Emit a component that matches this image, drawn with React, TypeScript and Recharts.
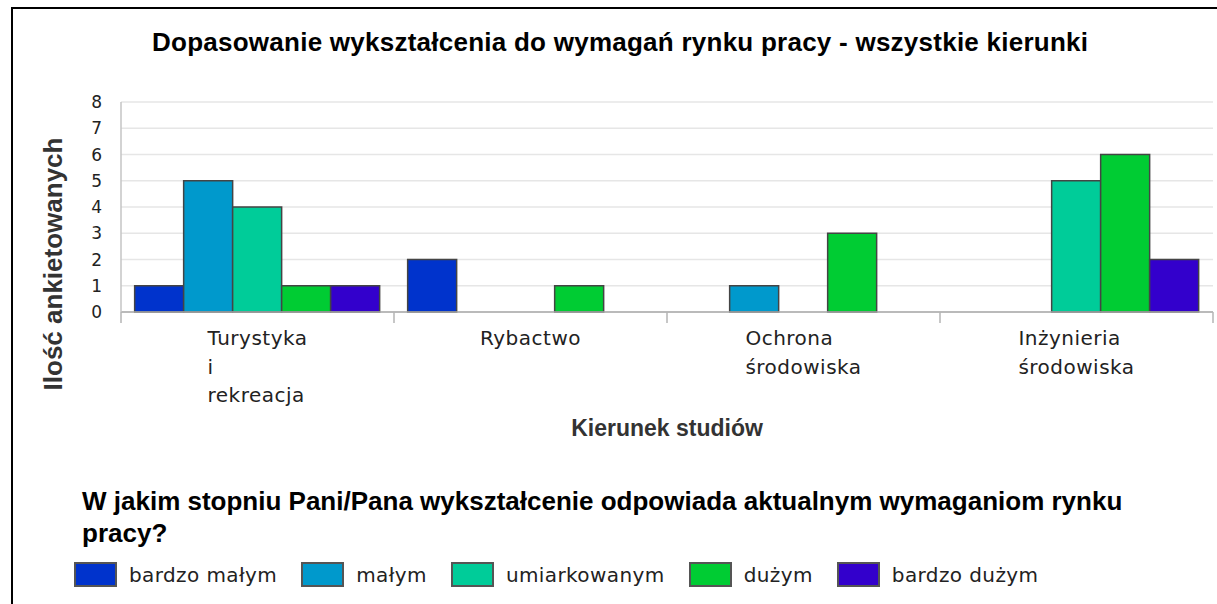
import React from "react";
import { BarChart, Bar, XAxis, YAxis, CartesianGrid, Label } from "recharts";

// categories (kierunek studiów)
const categories = ["Turystyka i rekreacja", "Rybactwo", "Ochrona środowiska", "Inżynieria środowiska"];

// answers to the question, one array per answer level
const seriesNames = ["bardzo małym", "małym", "umiarkowanym", "dużym", "bardzo dużym"];
const seriesColors = ["#0033cc", "#0099cc", "#00cc99", "#00cc33", "#3300cc"];
const bardzoMalym = [1, 2, 0, 0];
const malym = [5, 0, 1, 0];
const umiarkowanym = [4, 0, 0, 5];
const duzym = [1, 1, 3, 6];
const bardzoDuzym = [1, 0, 0, 2];

const yTicks = [0, 1, 2, 3, 4, 5, 6, 7, 8];

const title = "Dopasowanie wykształcenia do wymagań rynku pracy - wszystkie kierunki";
const yTitle = "Ilość ankietowanych";
const xTitle = "Kierunek studiów";
const legendTitle = "W jakim stopniu Pani/Pana wykształcenie odpowiada aktualnym wymaganiom rynku pracy?";

const W = 1217;
const H = 604;
const MARGIN = { top: 102, right: 4, left: 0, bottom: 162 };
const Y_WIDTH = 121;
const PLOT_W = W - MARGIN.left - MARGIN.right - Y_WIDTH;

const TICK_FONT = '20px "DejaVu Sans"';
const TICK_LS = 0.5;

const keys = ["s0", "s1", "s2", "s3", "s4"];
const seriesValues = [bardzoMalym, malym, umiarkowanym, duzym, bardzoDuzym];

const data = categories.map((name, i) => {
  const row: Record<string, string | number> = { name };
  seriesValues.forEach((vals, s) => {
    row[keys[s]] = vals[i];
  });
  return row;
});

let ctx: CanvasRenderingContext2D | null = null;
function measure(s: string) {
  if (!ctx) ctx = document.createElement("canvas").getContext("2d");
  if (!ctx) return s.length * 11;
  ctx.font = TICK_FONT;
  return ctx.measureText(s).width + TICK_LS * s.length;
}

function XTick(props: any) {
  const { x, y, payload, index } = props;
  const lines: string[] = String(payload.value).split(" ");
  const w = Math.max(...lines.map(measure));
  const left = x - w / 2;
  const bw = PLOT_W / categories.length;
  return (
    <g>
      <line x1={x - bw / 2} x2={x - bw / 2} y1={y} y2={y + 11} stroke="#b5b5b5" strokeWidth={1.5} />
      {index === categories.length - 1 && (
        <line x1={x + bw / 2} x2={x + bw / 2} y1={y} y2={y + 11} stroke="#b5b5b5" strokeWidth={1.5} />
      )}
      <text
        x={left}
        y={y + 33}
        fill="#222"
        style={{ font: TICK_FONT, letterSpacing: TICK_LS }}
      >
        {lines.map((l, i) => (
          <tspan key={i} x={left} dy={i === 0 ? 0 : 28.5}>
            {l}
          </tspan>
        ))}
      </text>
    </g>
  );
}

function YTitle(props: any) {
  const vb = props.viewBox;
  const cx = vb.x + 62;
  const cy = vb.y + vb.height / 2 + 57;
  return (
    <text
      x={cx}
      y={cy}
      transform={`rotate(-90 ${cx} ${cy})`}
      textAnchor="middle"
      fill="#333"
      style={{ font: 'bold 26px "Liberation Sans"' }}
    >
      {yTitle}
    </text>
  );
}

function XTitle(props: any) {
  const vb = props.viewBox;
  return (
    <text
      x={vb.x + vb.width / 2}
      y={vb.y + 124}
      textAnchor="middle"
      fill="#333"
      style={{ font: 'bold 23px "Liberation Sans"' }}
    >
      {xTitle}
    </text>
  );
}

export default function App() {
  return (
    <div style={{ position: "absolute", left: 0, top: 0, width: W, height: H, background: "#fff" }}>
      <div
        style={{
          position: "absolute",
          left: 11,
          top: 7,
          width: W - 11,
          height: H - 7,
          borderTop: "2px solid #000",
          borderLeft: "2px solid #000",
          boxSizing: "border-box",
        }}
      />
      <div
        style={{
          position: "absolute",
          left: 152,
          top: 27,
          font: 'bold 26px "Liberation Sans"',
          lineHeight: "30px",
          letterSpacing: 0.25,
          whiteSpace: "nowrap",
          color: "#000",
        }}
      >
        {title}
      </div>
      <BarChart width={W} height={H} data={data} margin={MARGIN} barCategoryGap="5%" barGap={0}>
        <CartesianGrid vertical={false} stroke="#e6e6e6" strokeWidth={1.5} />
        <XAxis
          dataKey="name"
          height={130}
          tickLine={false}
          tickSize={0}
          tickMargin={0}
          axisLine={{ stroke: "#aaa", strokeWidth: 1.5 }}
          tick={<XTick />}
          interval={0}
        >
          <Label content={<XTitle />} />
        </XAxis>
        <XAxis
          xAxisId="top"
          dataKey="name"
          orientation="top"
          height={0}
          tick={false}
          tickLine={false}
          axisLine={{ stroke: "#ccc", strokeWidth: 1.5 }}
        />
        <YAxis
          domain={[0, 8]}
          ticks={yTicks}
          width={Y_WIDTH}
          tickLine={false}
          tickMargin={13}
          axisLine={{ stroke: "#c4c4c4", strokeWidth: 1.5 }}
          tick={{ fill: "#222", fontSize: 17, fontFamily: "DejaVu Sans" }}
          interval={0}
        >
          <Label content={<YTitle />} />
        </YAxis>
        <YAxis
          yAxisId="right"
          orientation="right"
          domain={[0, 8]}
          width={0}
          tick={false}
          tickLine={false}
          axisLine={{ stroke: "#ccc", strokeWidth: 1.5 }}
        />
        {keys.map((k, i) => (
          <Bar
            key={k}
            dataKey={k}
            name={seriesNames[i]}
            fill={seriesColors[i]}
            stroke="#444"
            strokeWidth={1.5}
            isAnimationActive={false}
          />
        ))}
      </BarChart>
      <div
        style={{
          position: "absolute",
          left: 82,
          top: 485,
          width: 1100,
          font: 'bold 26px "Liberation Sans"',
          lineHeight: "32px",
          color: "#000",
        }}
      >
        {legendTitle}
      </div>
      <div
        style={{
          position: "absolute",
          left: 74,
          top: 562,
          height: 25,
          display: "flex",
          alignItems: "center",
        }}
      >
        {seriesNames.map((n, i) => (
          <React.Fragment key={n}>
            <div
              style={{
                width: 43,
                height: 25,
                boxSizing: "border-box",
                border: "2px solid #555",
                background: seriesColors[i],
                marginRight: 12,
              }}
            />
            <span
              style={{
                font: TICK_FONT,
                letterSpacing: 0.4,
                color: "#222",
                marginRight: 24,
                whiteSpace: "nowrap",
              }}
            >
              {n}
            </span>
          </React.Fragment>
        ))}
      </div>
    </div>
  );
}
